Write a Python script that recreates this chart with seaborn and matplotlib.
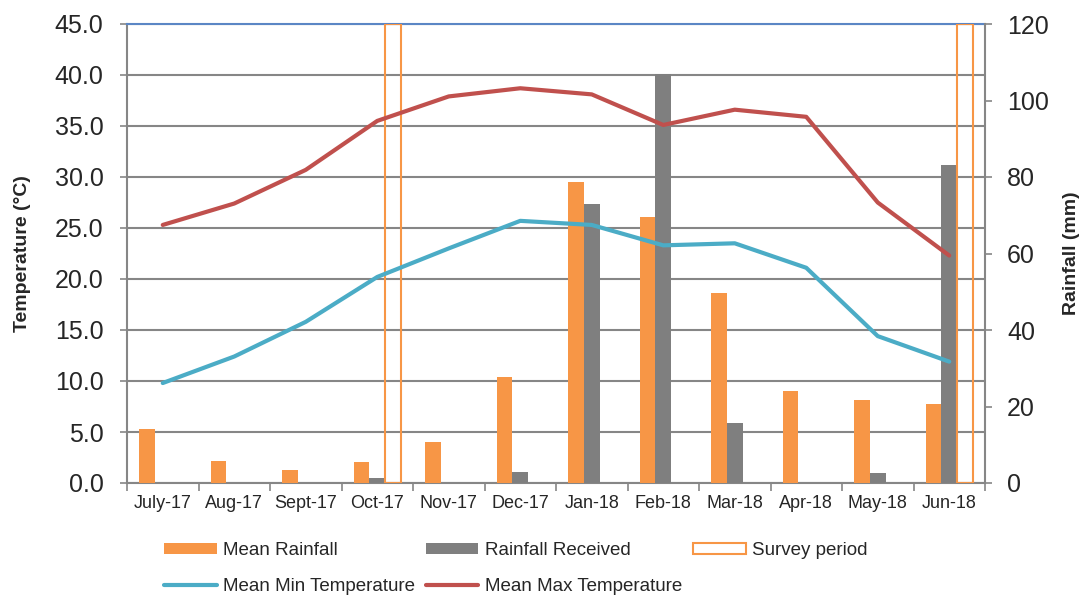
import numpy as np
import pandas as pd
import matplotlib
matplotlib.use("Agg")
import matplotlib.pyplot as plt
import seaborn as sns
from matplotlib.patches import Patch
from matplotlib.lines import Line2D

months = ["July-17", "Aug-17", "Sept-17", "Oct-17", "Nov-17", "Dec-17",
          "Jan-18", "Feb-18", "Mar-18", "Apr-18", "May-18", "Jun-18"]
mean_rainfall = [14.1, 5.8, 3.4, 5.6, 10.6, 27.7, 78.7, 69.5, 49.7, 24.1, 21.7, 20.7]
rain_received = [0.0, 0.0, 0.0, 1.2, 0.0, 2.9, 72.9, 106.9, 15.7, 0.0, 2.6, 83.1]
survey_period = [np.nan, np.nan, np.nan, 120, np.nan, np.nan,
                 np.nan, np.nan, np.nan, np.nan, np.nan, 120]
min_temp = [9.8, 12.4, 15.8, 20.2, 23.0, 25.7, 25.3, 23.3, 23.5, 21.1, 14.4, 11.9]
max_temp = [25.3, 27.4, 30.7, 35.5, 37.9, 38.7, 38.1, 35.1, 36.6, 35.9, 27.5, 22.3]
temp_ticks = np.arange(0, 46, 5)
rain_ticks = np.arange(0, 121, 20)

ORANGE = "#F79646"
GREY = "#7F7F7F"
CYAN = "#4BACC6"
RED = "#C0504D"
AXIS = "#868686"

sns.set_style("white")
plt.rcParams["font.family"] = ["Liberation Sans", "DejaVu Sans"]

bars = pd.DataFrame({
    "month": months * 3,
    "series": ["Mean Rainfall"] * 12 + ["Rainfall Received"] * 12 + ["Survey period"] * 12,
    "mm": mean_rainfall + rain_received + survey_period,
})

fig = plt.figure(figsize=(10.86, 5.97), dpi=100)
ax = fig.add_axes([127 / 1086, 1 - 483 / 597, (985 - 127) / 1086, (483 - 24) / 597])
ax_bars = ax.twinx()
ax_lines = ax.twinx()

# temperature axis with the grid
ax.set_ylim(0, 45)
ax.set_yticks(temp_ticks)
ax.set_yticklabels([f"{t:.1f}" for t in temp_ticks], fontsize=18)
ax.grid(axis="y", color=AXIS, linewidth=1.5)
ax.set_ylabel("Temperature (°C)", fontsize=14, fontweight="bold", labelpad=17)
ax.tick_params(axis="y", length=5, color=AXIS, width=1.2, pad=12)

# rainfall bars
sns.barplot(data=bars, x="month", y="mm", hue="series", ax=ax_bars,
            palette=[ORANGE, GREY, ORANGE], width=0.66, saturation=1,
            legend=False, order=months, linewidth=0)
n = len(months)
for p in ax_bars.containers[2]:
    p.set_facecolor("none")
    p.set_edgecolor(ORANGE)
    p.set_linewidth(1.5)
ax_bars.set_ylim(0, 120)
ax_bars.set_yticks(rain_ticks)
ax_bars.set_yticklabels([str(t) for t in rain_ticks], fontsize=18)
ax_bars.set_ylabel("Rainfall (mm)", fontsize=14, fontweight="bold", labelpad=10)
ax_bars.tick_params(axis="y", length=5, color=AXIS, width=1.2, pad=11)

# temperature lines on top of bars
x = np.arange(n)
sns.lineplot(x=x, y=min_temp, ax=ax_lines, color=CYAN, linewidth=3)
sns.lineplot(x=x, y=max_temp, ax=ax_lines, color=RED, linewidth=3)
ax_lines.set_ylim(0, 45)
ax_lines.set_yticks([])
ax_lines.set_ylabel("")

for a in (ax, ax_bars, ax_lines):
    a.set_xlim(-0.5, n - 0.5)
    for s in a.spines.values():
        s.set_visible(False)
for side in ("left", "bottom"):
    ax.spines[side].set_visible(True)
    ax.spines[side].set_color(AXIS)
    ax.spines[side].set_linewidth(1.5)
ax.spines["top"].set_visible(True)
ax.spines["top"].set_color("#5B86C5")
ax.spines["top"].set_linewidth(1.5)
ax_bars.spines["right"].set_visible(True)
ax_bars.spines["right"].set_color(AXIS)
ax_bars.spines["right"].set_linewidth(1.5)

ax.set_xticks(x)
ax.set_xticklabels(months)
ax.set_xticks(np.arange(-0.5, n, 1), minor=True)
ax.tick_params(axis="x", which="major", length=0, pad=9, labelsize=13)
ax.tick_params(axis="x", which="minor", length=6, color=AXIS, width=1.2, bottom=True)
ax_bars.set_xlabel("")

handles = [
    Patch(facecolor=ORANGE, edgecolor="none"),
    Line2D([0], [0], color=CYAN, linewidth=3),
    Patch(facecolor=GREY, edgecolor="none"),
    Line2D([0], [0], color=RED, linewidth=3),
    Patch(facecolor="white", edgecolor=ORANGE, linewidth=1.5),
]
labels = ["Mean Rainfall", "Mean Min Temperature", "Rainfall Received",
          "Mean Max Temperature", "Survey period"]
fig.legend(handles, labels, loc="upper left", bbox_to_anchor=(164 / 1086, 1 - 542 / 597),
           ncol=3, frameon=False, fontsize=13.5, borderpad=0, borderaxespad=0,
           handlelength=2.8, handleheight=0.5, handletextpad=0.33,
           columnspacing=0.6, labelspacing=1.02)

fig.savefig("out.png", dpi=100)
